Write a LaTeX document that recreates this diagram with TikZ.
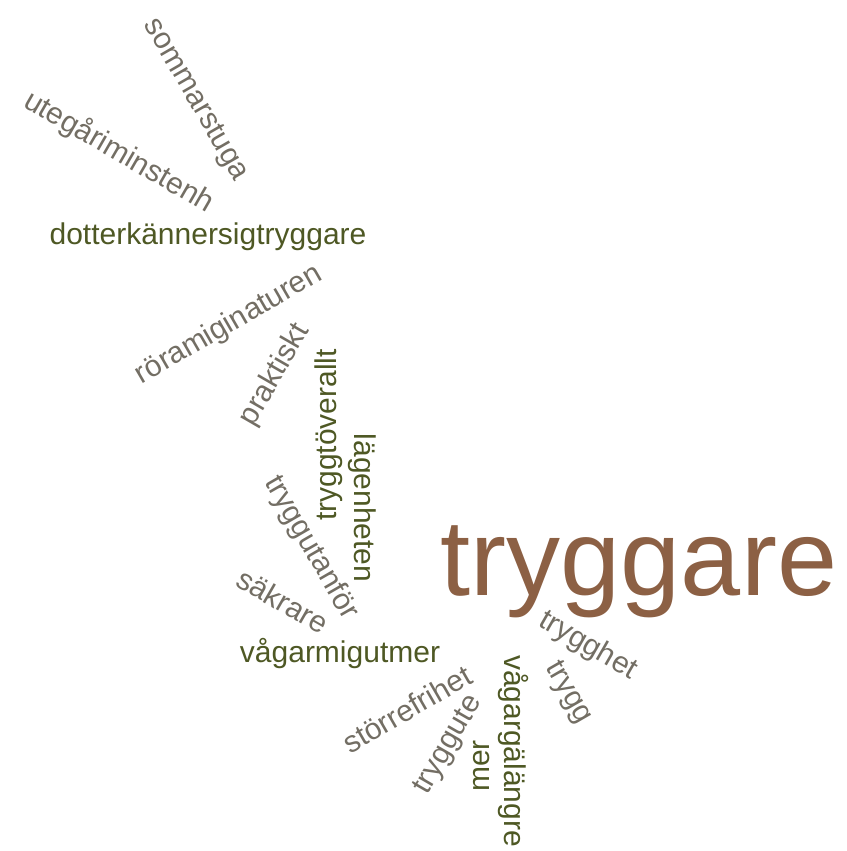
\documentclass[tikz,border=0pt]{standalone}
\usepackage{fontspec}
\setmainfont{Liberation Sans}
\usepackage{tikz}
\usetikzlibrary{positioning}
\definecolor{wgray}{RGB}{115,110,100}
\definecolor{wolive}{RGB}{78,88,36}
\definecolor{wbrown}{RGB}{140,96,68}

\begin{document}
\begin{tikzpicture}[x=1pt,y=-1pt,
  word/.style={inner sep=0pt,font=\fontsize{30}{36}\selectfont},
  grayword/.style={word,text=wgray},
  oliveword/.style={word,text=wolive}]
\useasboundingbox (0,0) rectangle (846,851);
% the big one
\node[word,text=wbrown,font=\fontsize{108}{120}\selectfont] (tryggare) at (639,572) {tryggare};
% upper part
\node[grayword,rotate=-60] (sommarstuga) at (195,100) {sommarstuga};
\node[grayword,rotate=-30] (utegard) at (119,152) {utegåriminstenh};
\node[oliveword] (dotter) at (208,237) {dotterkännersigtryggare};
\node[grayword,rotate=30] (natur) at (229,325) {röramiginaturen};
\node[grayword,rotate=60] (praktiskt) at (275,375) {praktiskt};
% middle
\node[oliveword,rotate=90] (overallt) at (329,435) {tryggtöverallt};
\node[oliveword,rotate=-90] (lagenhet) at (362,508) {lägenheten};
\node[grayword,rotate=-60] (utanfor) at (311,548) {tryggutanför};
\node[grayword,rotate=-30] (sakrare) at (283,601) {säkrare};
\node[oliveword] (vagarmig) at (340,654) {vågarmigutmer};
% lower part
\node[grayword,rotate=30] (frihet) at (407,709) {störrefrihet};
\node[grayword,rotate=60] (tryggute) at (449,745) {tryggute};
\node[oliveword,rotate=90] (mer) at (482,766) {mer};
\node[oliveword,rotate=-90] (langre) at (513,751) {vågargälängre};
\node[grayword,rotate=-60] (trygg) at (568,693) {trygg};
\node[grayword,rotate=-30] (trygghet) at (588,646) {trygghet};
\end{tikzpicture}
\end{document}
